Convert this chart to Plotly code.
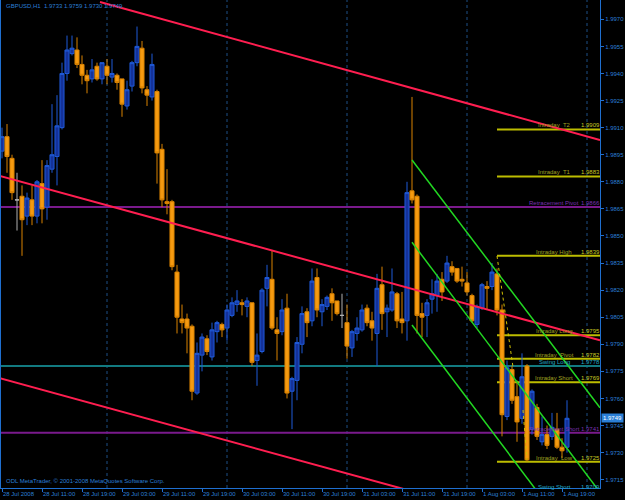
import pandas as pd
import plotly.graph_objects as go

# ---------------- data ----------------
symbol = "GBPUSD,H1"
start_time = "2008-07-28 03:00"
opens = [1.9897, 1.9905, 1.9893, 1.9870, 1.9872, 1.9861, 1.9870, 1.9861, 1.9879, 1.9866,
         1.9887, 1.9894, 1.9910, 1.9940, 1.9951, 1.9953, 1.9945, 1.9939, 1.9937, 1.9944,
         1.9937, 1.9944, 1.9938, 1.9939, 1.9937, 1.9922, 1.9933, 1.9946, 1.9954, 1.9931,
         1.9927, 1.9930, 1.9898, 1.9869, 1.9869, 1.9830, 1.9804, 1.9804, 1.9800, 1.9763,
         1.9784, 1.9793, 1.9783, 1.9797, 1.9801, 1.9799, 1.9806, 1.9812, 1.9813, 1.9811,
         1.9813, 1.9781, 1.9786, 1.9821, 1.9826, 1.9798, 1.9797, 1.9810, 1.9764, 1.9770,
         1.9790, 1.9808, 1.9803, 1.9827, 1.9808, 1.9811, 1.9818, 1.9814, 1.9806, 1.9802,
         1.9788, 1.9796, 1.9798, 1.9810, 1.9803, 1.9796, 1.9823, 1.9808, 1.9809, 1.9818,
         1.9804, 1.9803, 1.9875, 1.9872, 1.9807, 1.9806, 1.9815, 1.9817, 1.9826, 1.9825,
         1.9833, 1.9832, 1.9826, 1.9824, 1.9817, 1.9801, 1.9810, 1.9822, 1.9822, 1.9829,
         1.9809, 1.9750, 1.9776, 1.9761, 1.9749, 1.9778, 1.9743, 1.9755, 1.9736, 1.9740,
         1.9739, 1.9743, 1.9733, 1.9733]
highs = [1.9910, 1.9912, 1.9895, 1.9885, 1.9878, 1.9874, 1.9878, 1.9881, 1.9892, 1.9892,
         1.9923, 1.9928, 1.9946, 1.9961, 1.9961, 1.9960, 1.9950, 1.9942, 1.9948, 1.9946,
         1.9946, 1.9948, 1.9948, 1.9940, 1.9937, 1.9936, 1.9947, 1.9966, 1.9958, 1.9933,
         1.9951, 1.9931, 1.9901, 1.9887, 1.9870, 1.9834, 1.9812, 1.9807, 1.9801, 1.9791,
         1.9796, 1.9795, 1.9802, 1.9803, 1.9802, 1.9812, 1.9816, 1.9820, 1.9815, 1.9816,
         1.9813, 1.9796, 1.9821, 1.9834, 1.9842, 1.9805, 1.9815, 1.9818, 1.9772, 1.9794,
         1.9811, 1.9810, 1.9832, 1.9832, 1.9815, 1.9817, 1.9821, 1.9814, 1.9818, 1.9812,
         1.9798, 1.9805, 1.9812, 1.9812, 1.9808, 1.9829, 1.9833, 1.9812, 1.9832, 1.9819,
         1.9819, 1.9880, 1.9927, 1.9873, 1.9813, 1.9815, 1.9826, 1.9829, 1.9830, 1.9839,
         1.9836, 1.9832, 1.9833, 1.9830, 1.9818, 1.9812, 1.9824, 1.9825, 1.9835, 1.9832,
         1.9812, 1.9781, 1.9778, 1.9770, 1.9785, 1.9779, 1.9765, 1.9757, 1.9750, 1.9745,
         1.9752, 1.9752, 1.9738, 1.9759]
lows = [1.9893, 1.9885, 1.9870, 1.9853, 1.9839, 1.9856, 1.9856, 1.9857, 1.9857, 1.9859,
        1.9885, 1.9878, 1.9909, 1.9936, 1.9950, 1.9943, 1.9934, 1.9929, 1.9935, 1.9936,
        1.9934, 1.9934, 1.9935, 1.9931, 1.9916, 1.9920, 1.9930, 1.9944, 1.9929, 1.9922,
        1.9925, 1.9879, 1.9866, 1.9862, 1.9831, 1.9796, 1.9796, 1.9785, 1.9759, 1.9762,
        1.9775, 1.9784, 1.9781, 1.9791, 1.9794, 1.9792, 1.9805, 1.9808, 1.9806, 1.9805,
        1.9778, 1.9767, 1.9785, 1.9811, 1.9798, 1.9781, 1.9795, 1.9760, 1.9743, 1.9759,
        1.9785, 1.9794, 1.9800, 1.9805, 1.9800, 1.9809, 1.9803, 1.9806, 1.9799, 1.9782,
        1.9783, 1.9792, 1.9797, 1.9800, 1.9792, 1.9778, 1.9798, 1.9794, 1.9808, 1.9799,
        1.9796, 1.9792, 1.9868, 1.9796, 1.9794, 1.9794, 1.9807, 1.9808, 1.9814, 1.9824,
        1.9828, 1.9824, 1.9822, 1.9817, 1.9802, 1.9799, 1.9809, 1.9809, 1.9820, 1.9806,
        1.9739, 1.9748, 1.9757, 1.9736, 1.9746, 1.9725, 1.9740, 1.9737, 1.9734, 1.9732,
        1.9737, 1.9732, 1.9727, 1.9730]
closes = [1.9905, 1.9894, 1.9874, 1.9870, 1.9859, 1.9871, 1.9861, 1.9880, 1.9865, 1.9889,
          1.9895, 1.9911, 1.9940, 1.9953, 1.9954, 1.9945, 1.9939, 1.9936, 1.9942, 1.9937,
          1.9946, 1.9939, 1.9940, 1.9935, 1.9923, 1.9931, 1.9946, 1.9955, 1.9932, 1.9928,
          1.9945, 1.9896, 1.9870, 1.9868, 1.9833, 1.9805, 1.9802, 1.9799, 1.9764, 1.9785,
          1.9794, 1.9786, 1.9798, 1.9802, 1.9798, 1.9809, 1.9813, 1.9814, 1.9812, 1.9814,
          1.9780, 1.9784, 1.9820, 1.9827, 1.9799, 1.9796, 1.9809, 1.9763, 1.9771, 1.9791,
          1.9807, 1.9802, 1.9825, 1.9809, 1.9812, 1.9816, 1.9813, 1.9807, 1.9806, 1.9789,
          1.9797, 1.9799, 1.9809, 1.9802, 1.9799, 1.9821, 1.9807, 1.9810, 1.9819, 1.9803,
          1.9802, 1.9874, 1.9870, 1.9806, 1.9805, 1.9813, 1.9818, 1.9825, 1.9819, 1.9835,
          1.9830, 1.9825, 1.9825, 1.9819, 1.9803, 1.9811, 1.9823, 1.9821, 1.9830, 1.9809,
          1.9751, 1.9777, 1.9759, 1.9747, 1.9772, 1.9726, 1.9764, 1.9739, 1.9740, 1.9734,
          1.9744, 1.9733, 1.9731, 1.9749]

# horizontal levels: name, price, kind
level_names = ["Intraday  T2", "Intraday  T1", "Retracement Pivot", "Intraday High",
               "Intraday Long", "Intraday  Pivot", "Swing Long", "Intraday Short",
               "Retracement Short", "Intraday  Low", "Swing Short"]
level_values = [1.9909, 1.9883, 1.9866, 1.9839, 1.9795, 1.9782, 1.9778, 1.9769,
                1.9741, 1.9725, 1.9709]
level_kinds = ["intraday", "intraday", "retrace", "intraday", "intraday", "intraday",
               "swing", "intraday", "retrace", "intraday", "swing"]
intraday_start_bar = 99

# trend lines (bar index, price) pairs
red_lines = [((19.6, 1.99796), (119.6, 1.99032)),
             ((-0.4, 1.98832), (119.6, 1.97922)),
             ((-0.4, 1.97712), (119.6, 1.96800))]
green_lines = [((82, 1.98921), (119.6, 1.97548)),
               ((82, 1.98465), (119.6, 1.97080)),
               ((82, 1.98007), (119.6, 1.96622))]
yellow_dotted = [((99, 1.98389), (102.2, 1.97774)),
                 ((104.2, 1.97536), (105, 1.97259))]

y_ticks = [1.9715, 1.9730, 1.9745, 1.9760, 1.9775, 1.9790, 1.9805, 1.9820, 1.9835,
           1.9850, 1.9865, 1.9880, 1.9895, 1.9910, 1.9925, 1.9940, 1.9955, 1.9970]
y_range = [1.97104, 1.99807]
x_range_bars = [-0.2, 119.6]
day_breaks = ["2008-07-29 00:00", "2008-07-30 00:00", "2008-07-31 00:00",
              "2008-08-01 00:00", "2008-08-02 00:00"]

# ---------------- build ----------------
t0 = pd.Timestamp(start_time)
times = pd.date_range(t0, periods=len(opens), freq="h")


def bt(b):
    return t0 + pd.Timedelta(hours=b)


BLUE_TXT = "#2b7fd6"
AXIS = "#1f6fd0"
FONT = "Liberation Sans"
FS = 6

doji = [o == c for o, c in zip(opens, closes)]
fig = go.Figure()
fig.add_trace(go.Candlestick(
    x=[t for t, d in zip(times, doji) if not d],
    open=[v for v, d in zip(opens, doji) if not d],
    high=[v for v, d in zip(highs, doji) if not d],
    low=[v for v, d in zip(lows, doji) if not d],
    close=[v for v, d in zip(closes, doji) if not d],
    increasing=dict(line=dict(color="#1f5ad8", width=1), fillcolor="#14329a"),
    decreasing=dict(line=dict(color="#d98200", width=1), fillcolor="#f59a10"),
    whiskerwidth=0, showlegend=False, hoverinfo="skip"))
fig.add_trace(go.Candlestick(
    x=[t for t, d in zip(times, doji) if d],
    open=[v for v, d in zip(opens, doji) if d],
    high=[v for v, d in zip(highs, doji) if d],
    low=[v for v, d in zip(lows, doji) if d],
    close=[v for v, d in zip(closes, doji) if d],
    increasing=dict(line=dict(color="#b0b0b0", width=1), fillcolor="#b0b0b0"),
    decreasing=dict(line=dict(color="#b0b0b0", width=1), fillcolor="#b0b0b0"),
    whiskerwidth=0, showlegend=False, hoverinfo="skip"))

shapes = []
for d in day_breaks:
    shapes.append(dict(type="line", xref="x", yref="paper", x0=d, x1=d, y0=0, y1=1,
                       line=dict(color="#1c4f85", width=1, dash="dot"), layer="below"))

for name, val, kind in zip(level_names, level_values, level_kinds):
    if kind == "intraday":
        col, w, xs = "#bcbc00", 2, bt(intraday_start_bar)
    elif kind == "retrace":
        col, w, xs = "#7a1a8c", 2, bt(x_range_bars[0])
    else:
        col, w, xs = "#127a80", 2, bt(x_range_bars[0])
    shapes.append(dict(type="line", xref="x", yref="y", x0=xs, x1=bt(x_range_bars[1]),
                       y0=val, y1=val, line=dict(color=col, width=w), layer="below"))

for (a, b) in red_lines:
    shapes.append(dict(type="line", xref="x", yref="y", x0=bt(a[0]), y0=a[1],
                       x1=bt(b[0]), y1=b[1], line=dict(color="#ff1e50", width=2)))
for (a, b) in green_lines:
    shapes.append(dict(type="line", xref="x", yref="y", x0=bt(a[0]), y0=a[1],
                       x1=bt(b[0]), y1=b[1], line=dict(color="#22d822", width=1.5)))
for (a, b) in yellow_dotted:
    shapes.append(dict(type="line", xref="x", yref="y", x0=bt(a[0]), y0=a[1],
                       x1=bt(b[0]), y1=b[1], line=dict(color="#d0c000", width=1, dash="dot")))

annotations = []
span = y_range[1] - y_range[0]
for name, val, kind in zip(level_names, level_values, level_kinds):
    if kind == "intraday":
        c1, c2 = "#a0a020", "#c8c820"
    elif kind == "retrace":
        c1, c2 = "#7a30b0", "#7a30b0"
    else:
        c1, c2 = "#22a8c0", "#22a8c0"
    inside = y_range[0] < val < y_range[1]
    yref = "y" if inside else "paper"
    yv = val if inside else (val - y_range[0]) / span
    for txt, xb, col in ((name, 110.4, c1), ("%.4f" % val, 117.7, c2)):
        annotations.append(dict(x=bt(xb), y=yv, xref="x", yref=yref, text=txt,
                                showarrow=False, xanchor="center", yanchor="bottom",
                                font=dict(family=FONT, size=FS, color=col), yshift=-1))

annotations.append(dict(x=0.005, y=1, xref="paper", yref="paper", xanchor="left",
                        yanchor="top", showarrow=False, yshift=-1,
                        text="%s  %.4f %.4f %.4f %.4f" % (symbol, opens[-1], highs[-1], lows[-1], closes[-1]),
                        font=dict(family=FONT, size=FS, color=BLUE_TXT)))
annotations.append(dict(x=0.005, y=0, xref="paper", yref="paper", xanchor="left",
                        yanchor="bottom", showarrow=False, yshift=2,
                        text="ODL MetaTrader, © 2001-2008 MetaQuotes Software Corp.",
                        font=dict(family=FONT, size=FS, color=BLUE_TXT)))
annotations.append(dict(x=1, y=closes[-1], xref="paper", yref="y", xanchor="left",
                        yanchor="middle", showarrow=False, xshift=1,
                        text="%.4f" % closes[-1], bgcolor="#2b7fd6", borderpad=1,
                        font=dict(family=FONT, size=FS, color="#ffffff")))

tick_idx = list(range(0, len(times), 8))
tick_vals = [times[i] for i in tick_idx]
tick_text = [("%d %s %d" % (times[i].day, times[i].strftime("%b"), times[i].year)) if i == 0
             else "%d %s" % (times[i].day, times[i].strftime("%b %H:%M")) for i in tick_idx]

fig.update_layout(
    width=625, height=500, margin=dict(l=1, r=25, t=0, b=12, autoexpand=False),
    paper_bgcolor="#000000", plot_bgcolor="#000000",
    shapes=shapes, annotations=annotations, showlegend=False,
    boxgap=0.15, boxgroupgap=0.05,
    xaxis=dict(type="date", range=[bt(x_range_bars[0]), bt(x_range_bars[1])],
               rangeslider=dict(visible=False), showgrid=False, zeroline=False,
               showline=True, linecolor=AXIS, linewidth=1, automargin=False,
               tickvals=tick_vals, ticktext=tick_text, ticks="outside", ticklen=3,
               tickcolor=AXIS, ticklabelposition="outside right", tickangle=0,
               tickfont=dict(family=FONT, size=FS, color=BLUE_TXT)),
    yaxis=dict(range=y_range, side="right", showgrid=False, zeroline=False,
               showline=True, linecolor=AXIS, linewidth=1, mirror=True, automargin=False,
               tickvals=y_ticks, ticktext=["%.4f" % v for v in y_ticks],
               ticks="outside", ticklen=3, tickcolor=AXIS,
               tickfont=dict(family=FONT, size=FS, color=BLUE_TXT)),
)

fig.write_html("out.html")
